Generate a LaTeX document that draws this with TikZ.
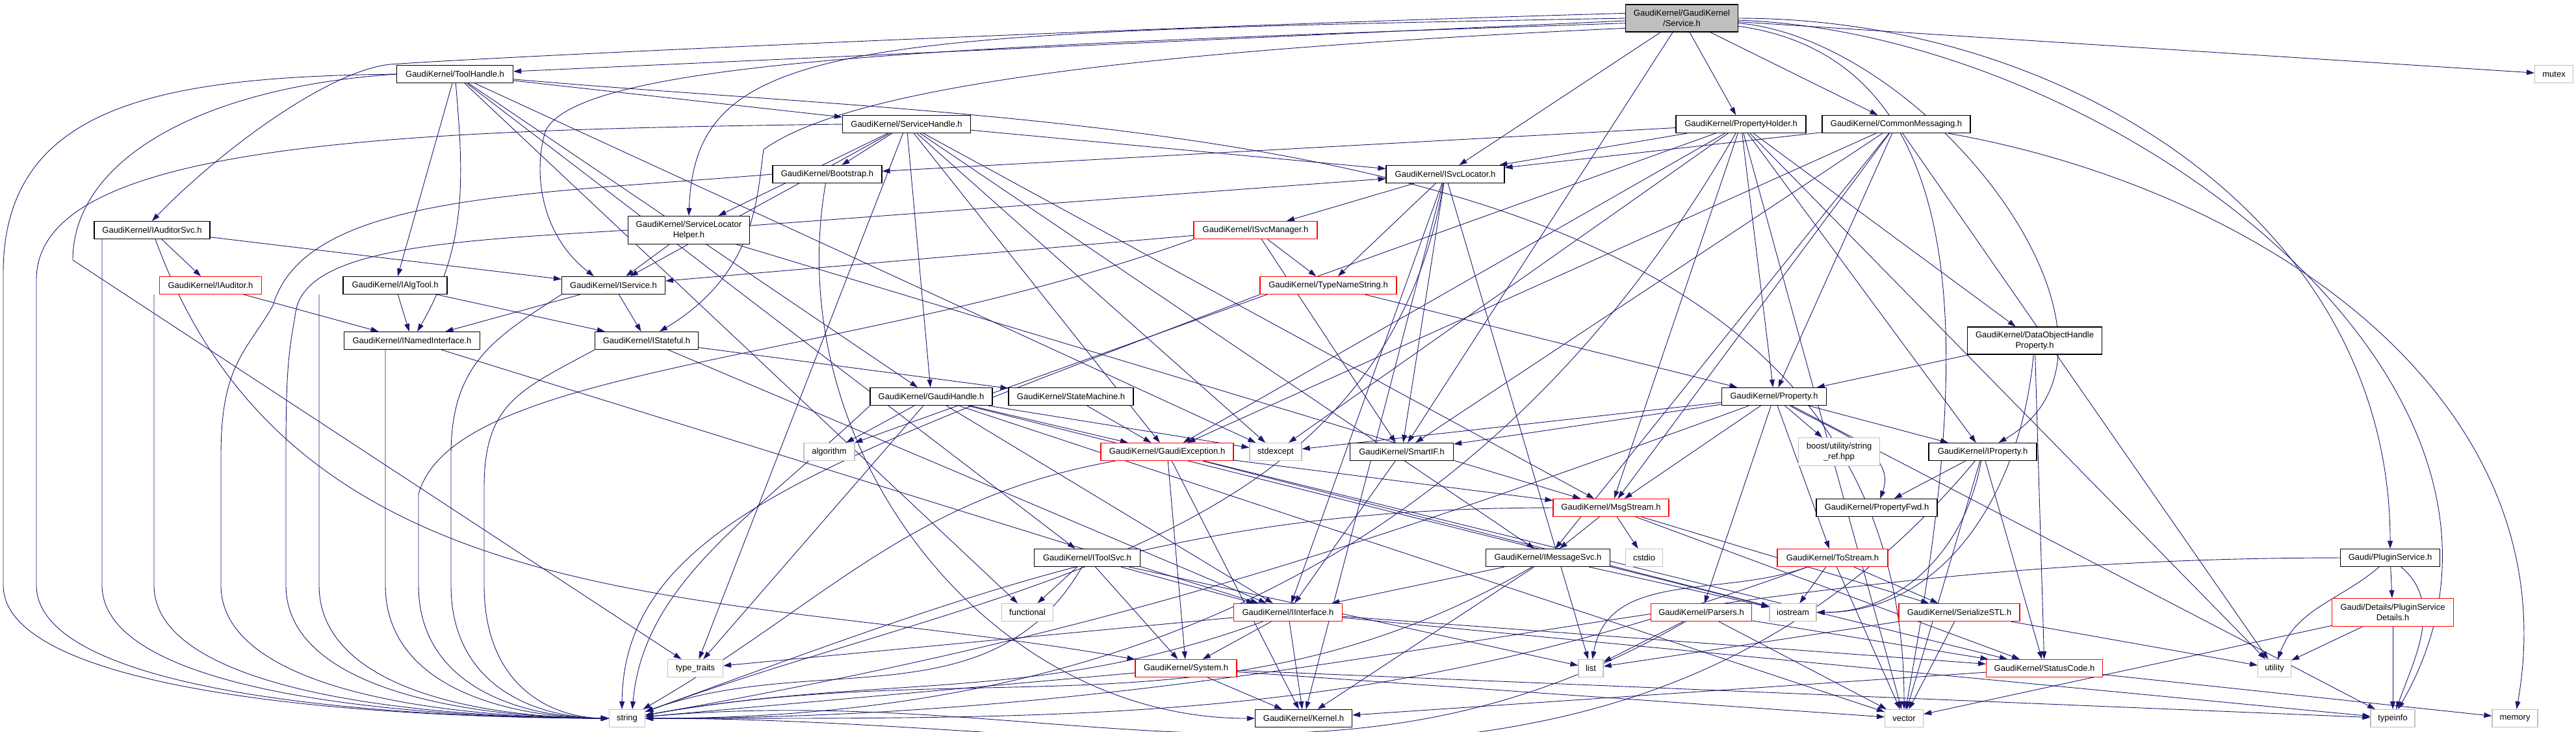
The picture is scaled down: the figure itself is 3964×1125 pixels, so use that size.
\documentclass[tikz,border=0pt]{standalone}
\usepackage{fontspec}
\setmainfont{Liberation Sans}
\usetikzlibrary{arrows.meta}
\definecolor{edgeblue}{HTML}{191970}
\definecolor{sysgray}{HTML}{BFBFBF}
\definecolor{trunc}{HTML}{FF0000}
\pgfdeclarelayer{bg}
\pgfsetlayers{bg,main}
\tikzset{
  nd/.style={draw=black, line width=0.12pt, fill=white, inner sep=0pt, minimum height=2.7pt,
    font=\fontsize{1.3}{1.55}\selectfont, align=center, text=black},
  W/.style={minimum width=#1*0.1pt},
  H/.style={minimum height=#1*0.1pt},
  trn/.style={nd, draw=trunc},
  sysh/.style={nd, draw=sysgray},
  rootnd/.style={nd, fill=sysgray},
  dep/.style={draw=edgeblue, line width=0.09pt, -{Triangle[length=1.2pt,width=0.8pt]}}
}
\begin{document}
\begin{tikzpicture}[x=0.1pt,y=0.1pt]
\useasboundingbox (0,0) rectangle (3964,-1125);
% nodes
\node[rootnd, W=173, H=42] (svc) at (2588,-28) {GaudiKernel/GaudiKernel\\/Service.h};
\node[nd, W=179] (th) at (700,-114) {GaudiKernel/ToolHandle.h};
\node[sysh, W=59] (mutex) at (3930,-114) {mutex};
\node[nd, W=197] (sh) at (1395,-191) {GaudiKernel/ServiceHandle.h};
\node[nd, W=200] (ph) at (2679,-191) {GaudiKernel/PropertyHolder.h};
\node[nd, W=228] (cm) at (2918,-191) {GaudiKernel/CommonMessaging.h};
\node[nd, W=178] (ias) at (234,-354) {GaudiKernel/IAuditorSvc.h};
\node[nd, W=168] (bs) at (1273,-268) {GaudiKernel/Bootstrap.h};
\node[nd, W=182] (isl) at (2224,-268) {GaudiKernel/ISvcLocator.h};
\node[nd, W=187, H=43] (slh) at (1060,-354) {GaudiKernel/ServiceLocator\\Helper.h};
\node[trn, W=190] (ism) at (1932,-354) {GaudiKernel/ISvcManager.h};
\node[trn, W=157] (ia) at (324,-439) {GaudiKernel/IAuditor.h};
\node[nd, W=160] (iat) at (608,-439) {GaudiKernel/IAlgTool.h};
\node[nd, W=159] (is) at (944,-439) {GaudiKernel/IService.h};
\node[trn, W=210] (tns) at (2044,-439) {GaudiKernel/TypeNameString.h};
\node[nd, W=209] (ini) at (634,-524) {GaudiKernel/INamedInterface.h};
\node[nd, W=159] (ist) at (995,-524) {GaudiKernel/IStateful.h};
\node[nd, W=207, H=42] (dohp) at (3131,-524) {GaudiKernel/DataObjectHandle\\Property.h};
\node[nd, W=188] (gh) at (1433,-610) {GaudiKernel/GaudiHandle.h};
\node[nd, W=192] (smc) at (1648,-610) {GaudiKernel/StateMachine.h};
\node[nd, W=161] (prop) at (2730,-610) {GaudiKernel/Property.h};
\node[sysh, W=78] (alg) at (1276,-695) {algorithm};
\node[trn, W=204] (gex) at (1796,-695) {GaudiKernel/GaudiException.h};
\node[sysh, W=80] (stdx) at (1963,-695) {stdexcept};
\node[nd, W=159] (sif) at (2157,-695) {GaudiKernel/SmartIF.h};
\node[sysh, W=125, H=43] (bsr) at (2830,-695) {boost/utility/string\\\_ref.hpp};
\node[nd, W=166] (ip) at (3051,-695) {GaudiKernel/IProperty.h};
\node[trn, W=178] (ms) at (2479,-781) {GaudiKernel/MsgStream.h};
\node[nd, W=186] (pf) at (2888,-781) {GaudiKernel/PropertyFwd.h};
\node[nd, W=163] (its) at (1673,-858) {GaudiKernel/IToolSvc.h};
\node[nd, W=191] (ims) at (2382,-858) {GaudiKernel/IMessageSvc.h};
\node[sysh, W=57] (cstdio) at (2530,-858) {cstdio};
\node[trn, W=170] (ts) at (2820,-858) {GaudiKernel/ToStream.h};
\node[nd, W=153] (ps) at (3678,-858) {Gaudi/PluginService.h};
\node[sysh, W=79] (func) at (1581,-942) {functional};
\node[trn, W=167] (ii) at (1982,-942) {GaudiKernel/IInterface.h};
\node[trn, W=155] (pars) at (2618,-942) {GaudiKernel/Parsers.h};
\node[sysh, W=72] (ios) at (2759,-942) {iostream};
\node[trn, W=186] (sstl) at (3015,-942) {GaudiKernel/SerializeSTL.h};
\node[trn, W=187, H=43] (psd) at (3682,-942) {Gaudi/Details/PluginService\\Details.h};
\node[sysh, W=85] (tt) at (1070,-1028) {type\_traits};
\node[trn, W=156] (sys) at (1825,-1028) {GaudiKernel/System.h};
\node[sysh, W=38] (list) at (2448,-1028) {list};
\node[trn, W=179] (sc) at (3146,-1028) {GaudiKernel/StatusCode.h};
\node[sysh, W=51] (util) at (3500,-1028) {utility};
\node[sysh, W=55] (str) at (965,-1105) {string};
\node[nd, W=149] (ker) at (2006,-1105) {GaudiKernel/Kernel.h};
\node[sysh, W=59] (vec) at (2930,-1105) {vector};
\node[sysh, W=68] (tinfo) at (3682,-1105) {typeinfo};
\node[sysh, W=70] (mem) at (3870,-1105) {memory};

\begin{pgfonlayer}{bg}
\fill[white] (0,0) rectangle (3964,-1125);
% ---- routes into string from the left
\draw[dep] (th.west) .. controls (250,-118) and (5,-160) .. (5,-420) -- (5,-900) .. controls (5,-1050) and (471,-1103) .. (str.west);
\draw[dep] (sh.west) .. controls (600,-200) and (56,-220) .. (56,-430) -- (56,-900) .. controls (56,-1050) and (496,-1103) .. (str.west);
\draw[dep] ([xshift=-7.7pt]ias.south) -- (157,-900) .. controls (157,-1050) and (547,-1103) .. (str.west);
\draw[dep] ([xshift=-8.7pt]ia.south) -- (237,-900) .. controls (237,-1050) and (587,-1103) .. (str.west);
\draw[dep] (bs.west) .. controls (800,-300) and (470,-300) .. (420,-470) .. controls (380,-540) and (340,-560) .. (340,-700) -- (340,-900) .. controls (340,-1050) and (638,-1103) .. (str.west);
\draw[dep] (slh.west) .. controls (700,-370) and (470,-380) .. (455,-480) .. controls (445,-540) and (440,-560) .. (440,-700) -- (440,-900) .. controls (440,-1050) and (688,-1103) .. (str.west);
\draw[dep] ([xshift=-11.7pt]iat.south) -- (491,-900) .. controls (491,-1050) and (714,-1103) .. (str.west);
\draw[dep] ([xshift=-4.1pt]ini.south) -- (593,-900) .. controls (593,-1050) and (765,-1103) .. (str.west);
\draw[dep] (ism.south west) .. controls (1300,-560) and (700,-560) .. (644,-760) -- (644,-900) .. controls (644,-1050) and (790,-1103) .. (str.west);
\draw[dep] (is.south west) .. controls (760,-520) and (694,-560) .. (694,-700) -- (694,-900) .. controls (694,-1050) and (815,-1103) .. (str.west);
\draw[dep] (ist.south west) .. controls (800,-600) and (745,-620) .. (745,-750) -- (745,-900) .. controls (745,-1050) and (841,-1103) .. (str.west);
\draw[dep] (tns.south west) .. controls (1300,-700) and (960,-800) .. ([xshift=-0.8pt]str.north);
\draw[dep] (gh.south west) .. controls (1150,-800) and (990,-900) .. ([xshift=0.8pt]str.north);
% Service.h
\draw[dep] (svc) -- (th);
\draw[dep] (svc) -- (mutex);
\draw[dep] (svc) -- (ph);
\draw[dep] (svc) -- (cm);
\draw[dep] (svc) -- (isl);
\draw[dep] (svc) -- (sif);
\draw[dep] (svc) to[out=0,in=90] (ps);
\draw[dep] (svc.175) .. controls (1800,-40) and (800,-85) .. (600,-99) .. controls (500,-110) and (330,-240) .. (ias.north);
\draw[dep] (svc.180) .. controls (1300,-50) and (1070,-60) .. (slh.north);
\draw[dep] (svc.185) .. controls (1500,-70) and (900,-90) .. (840,-200) .. controls (820,-260) and (830,-360) .. ([xshift=-3pt]is.north);
\draw[dep] (svc.190) .. controls (1700,-80) and (1300,-140) .. (1175,-230) .. controls (1165,-300) and (1165,-420) .. ([xshift=2pt]ist.north);
\draw[dep] (svc) to[out=-5,in=30] (ip);
\draw[dep] (svc) to[out=-8,in=80] (vec);
\draw[dep] (svc) to[out=-2,in=60] (tinfo);
% ToolHandle
\draw[dep] (th) -- (sh);
\draw[dep] (th) -- (iat);
\draw[dep] (th) to[out=-85,in=60] (ini);
\draw[dep] (th) -- (gh);
\draw[dep] (th) -- (its);
\draw[dep] (th) -- (func);
\draw[dep] (th) -- (stdx);
\draw[dep] (th.west) .. controls (300,-135) and (112,-250) .. (112,-400) -- (tt);
\draw[dep] (th) to[out=-5,in=90] (vec);
% ServiceHandle
\draw[dep] (sh) -- (bs);
\draw[dep] (sh) -- (gh);
\draw[dep] (sh) -- (is);
\draw[dep] (sh) -- (slh);
\draw[dep] (sh) -- (isl);
\draw[dep] (sh) -- (gex);
\draw[dep] (sh) -- (ms);
\draw[dep] (sh) -- (ims);
\draw[dep] (sh) -- (stdx);
\draw[dep] (sh) -- (tt);
% PropertyHolder
\draw[dep] (ph) -- (bs);
\draw[dep] (ph) -- (isl);
\draw[dep] (ph) -- (dohp);
\draw[dep] (ph) -- (prop);
\draw[dep] (ph) -- (ip);
\draw[dep] (ph) -- (ms);
\draw[dep] (ph) -- (gex);
\draw[dep] (ph) -- (alg);
\draw[dep] (ph) -- (stdx);
\draw[dep] (ph) -- (util);
\draw[dep] (ph) -- (vec);
\draw[dep] (ph) to[out=-120,in=0] (str);
% CommonMessaging
\draw[dep] (cm) -- (isl);
\draw[dep] (cm) -- (gex);
\draw[dep] (cm) -- (ms);
\draw[dep] (cm) -- (ims);
\draw[dep] (cm) -- (sif);
\draw[dep] (cm) -- (util);
\draw[dep] (cm) -- (prop);
\draw[dep] (cm) to[out=-10,in=80] (mem);
% IAuditorSvc
\draw[dep] (ias) -- (ia);
\draw[dep] (ias) -- (is);
\draw[dep] (ias) to[out=-70,in=170] (sys);
% ISvcLocator
\draw[dep] (isl) -- (ism);
\draw[dep] (isl) -- (tns);
\draw[dep] (isl) -- (sif);
\draw[dep] (isl) -- (ii);
\draw[dep] (isl) -- (list);
\draw[dep] (isl) -- (ker);
\draw[dep] (isl) to[out=-100,in=20] (str);
% ServiceLocatorHelper
\draw[dep] (slh) -- (isl);
\draw[dep] (slh) -- (is);
\draw[dep] (slh) -- (ms);
% Bootstrap
\draw[dep] (bs) to[out=-100,in=180] (ker);
% ISvcManager
\draw[dep] (ism) -- (is);
\draw[dep] (ism) -- (tns);
\draw[dep] (ism) -- (sif);
% IAuditor, IAlgTool, IService
\draw[dep] (ia) -- (ini);
\draw[dep] (iat) -- (ini);
\draw[dep] (iat) -- (ist);
\draw[dep] (is) -- (ini);
\draw[dep] (is) -- (ist);
% TypeNameString
\draw[dep] (tns) -- (prop);
% INamedInterface, IStateful
\draw[dep] (ini) -- (ii);
\draw[dep] (ist) -- (smc);
\draw[dep] (ist) -- (ii);
% DataObjectHandleProperty
\draw[dep] (dohp) -- (prop);
\draw[dep] (dohp) -- (sc);
\draw[dep] (dohp) to[out=-95,in=0] (ios);
% GaudiHandle
\draw[dep] (gh) -- (alg);
\draw[dep] (gh) -- (gex);
\draw[dep] (gh) -- (stdx);
\draw[dep] (gh) -- (ii);
\draw[dep] (gh) -- (ios);
\draw[dep] (gh) -- (tt);
\draw[dep] (gh) -- (vec);
% StateMachine
\draw[dep] (smc) -- (gex);
% Property
\draw[dep] (prop) -- (sif);
\draw[dep] (prop) -- (stdx);
\draw[dep] (prop) -- (bsr);
\draw[dep] (prop) -- (ip);
\draw[dep] (prop) to[out=-30,in=70] (pf);
\draw[dep] (prop) -- (ts);
\draw[dep] (prop) -- (pars);
\draw[dep] (prop) -- (ms);
\draw[dep] (prop) -- (tinfo);
\draw[dep] (prop) to[out=-160,in=10] (str);
% IProperty
\draw[dep] (ip) -- (pf);
\draw[dep] (ip) -- (vec);
\draw[dep] (ip) to[out=-100,in=0] (ios);
\draw[dep] (ip) -- (sc);
\draw[dep] (ip) to[out=-130,in=0] (str);
% MsgStream
\draw[dep] (ms) -- (ims);
\draw[dep] (ms) -- (cstdio);
\draw[dep] (ms) -- (sstl);
\draw[dep] (ms) -- (sc);
\draw[dep] (ms) to[out=180,in=20] (str);
% IToolSvc
\draw[dep] (its) -- (func);
\draw[dep] (its) -- (ii);
\draw[dep] (its) -- (sys);
\draw[dep] (its) -- (list);
\draw[dep] (its) to[out=-120,in=20] (str);
% IMessageSvc
\draw[dep] (ims) -- (ii);
\draw[dep] (ims) -- (ker);
\draw[dep] (ims) -- (ios);
\draw[dep] (ims) to[out=-150,in=10] (str);
% ToStream
\draw[dep] (ts) -- (ios);
\draw[dep] (ts) -- (sstl);
\draw[dep] (ts) -- (vec);
\draw[dep] (ts) to[out=-160,in=80] (list);
\draw[dep] (ts) to[out=-160,in=0] (str);
% PluginService
\draw[dep] (ps) -- (psd);
\draw[dep] (ps) to[out=-140,in=70] (util);
\draw[dep] (ps) to[out=-40,in=70] (tinfo);
\draw[dep] (ps) to[out=180,in=0] (str);
% IInterface
\draw[dep] (ii) -- (tt);
\draw[dep] (ii) -- (sys);
\draw[dep] (ii) -- (ker);
\draw[dep] (ii) -- (sc);
\draw[dep] (ii) -- (tinfo);
\draw[dep] (ii) to[out=-160,in=10] (str);
% Parsers
\draw[dep] (pars) -- (list);
\draw[dep] (pars) -- (vec);
\draw[dep] (pars) -- (sc);
\draw[dep] (pars) to[out=-150,in=5] (str);
% SerializeSTL
\draw[dep] (sstl) -- (util);
\draw[dep] (sstl) -- (list);
\draw[dep] (sstl) -- (vec);
% PluginServiceDetails
\draw[dep] (psd) -- (util);
\draw[dep] (psd) -- (tinfo);
\draw[dep] (psd) -- (vec);
% GaudiException
\draw[dep] (gex) -- (ms);
\draw[dep] (gex) -- (sys);
\draw[dep] (gex) -- (ker);
\draw[dep] (gex) -- (sc);
\draw[dep] (gex) -- (ios);
\draw[dep] (gex) to[out=-170,in=30] (str);
% System
\draw[dep] (sys) -- (ker);
\draw[dep] (sys) -- (tinfo);
\draw[dep] (sys) -- (vec);
\draw[dep] (sys) -- (str);
% StatusCode, SmartIF
\draw[dep] (sc) -- (ker);
\draw[dep] (sc) -- (mem);
\draw[dep] (sif) -- (ii);
\end{pgfonlayer}
\end{tikzpicture}
\end{document}
